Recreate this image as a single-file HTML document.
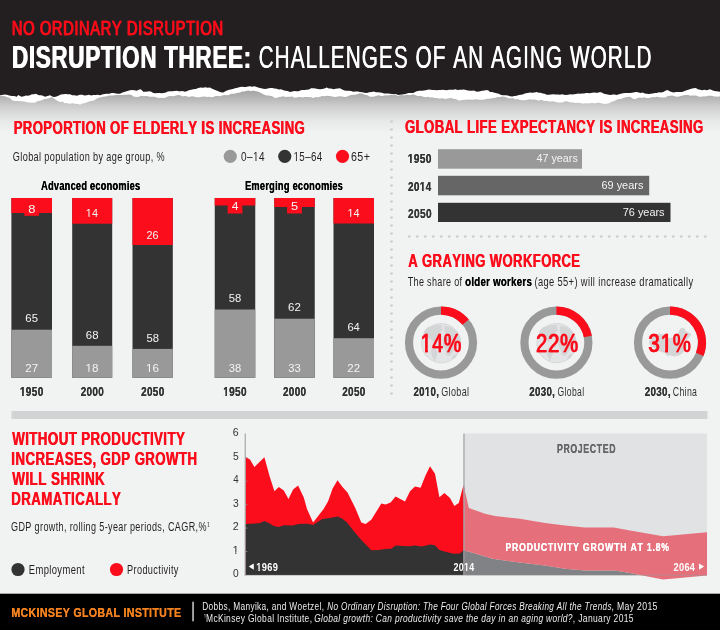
<!DOCTYPE html>
<html lang="en"><head><meta charset="utf-8"><title>Disruption Three: Challenges of an Aging World</title>
<style>html,body{margin:0;padding:0;background:#f1f2f2}body{width:720px;height:630px;overflow:hidden}svg{display:block}text{font-family:"Liberation Sans",Arial,Helvetica,sans-serif;white-space:pre;font-kerning:none;stroke-linejoin:round}</style></head>
<body>
<svg width="720" height="630" viewBox="0 0 720 630">
<rect width="720" height="630" fill="#f1f2f2"/>
<defs><linearGradient id="sh" x1="0" y1="0" x2="0" y2="1"><stop offset="0" stop-color="#a2a2a2"/><stop offset="0.17" stop-color="#b4b4b4"/><stop offset="0.37" stop-color="#cccccc"/><stop offset="0.57" stop-color="#dddede"/><stop offset="0.77" stop-color="#e9eaea"/><stop offset="1" stop-color="#f1f2f2"/></linearGradient></defs>
<rect x="0" y="90" width="720" height="43" fill="url(#sh)"/>
<polygon fill="#ffffff" points="0,80 0.0,95.8 2.5,96.0 5.0,96.3 7.5,97.2 10.0,98.0 11.7,99.9 13.3,100.8 15.4,100.9 17.5,101.1 19.6,101.3 21.7,101.3 24.2,101.4 26.7,102.2 28.9,102.4 31.1,102.8 33.3,102.8 35.5,102.5 37.8,101.0 40.0,100.8 42.2,99.9 44.5,98.9 46.7,98.7 49.2,98.2 51.7,97.0 55.0,99.2 58.3,101.3 60.4,102.0 62.5,101.6 64.6,103.2 66.7,103.0 68.9,103.7 71.1,103.4 73.3,103.3 75.5,103.9 77.8,103.8 80.0,104.7 82.2,103.4 84.5,103.3 86.7,102.5 88.9,101.4 91.1,101.0 93.3,100.8 95.5,99.4 97.8,98.0 100.0,97.5 102.1,97.0 104.2,96.6 106.2,96.6 108.3,95.8 110.4,95.6 112.5,95.6 114.6,95.2 116.7,95.0 120.0,95.0 122.2,95.1 124.5,94.7 126.7,94.7 129.2,94.6 131.7,95.0 133.3,96.4 135.0,96.7 137.2,97.0 139.5,96.5 141.7,95.8 143.8,96.3 145.8,96.0 147.9,96.2 150.0,96.7 152.2,96.7 154.5,96.7 156.7,97.5 158.9,98.0 161.1,97.7 163.3,98.0 165.8,97.6 168.3,96.3 170.4,95.9 172.5,96.3 174.6,96.0 176.7,95.3 178.7,94.9 180.7,95.4 182.7,96.4 184.7,96.1 186.7,96.3 188.8,97.1 190.8,96.5 192.9,96.3 195.0,97.0 197.3,97.2 199.7,97.3 202.0,96.7 204.4,96.5 206.7,97.0 208.9,96.7 211.1,97.3 213.3,97.0 215.6,96.1 217.8,96.1 220.0,96.3 222.2,95.5 224.5,95.1 226.7,95.3 228.9,95.1 231.1,93.8 233.3,93.7 235.5,93.4 237.8,92.8 240.0,92.5 242.2,91.6 244.5,91.6 246.7,90.8 248.7,90.5 250.7,91.2 252.7,90.6 254.7,91.1 256.7,91.3 258.9,91.9 261.1,93.0 263.3,94.2 265.5,95.3 267.8,95.6 270.0,95.8 272.2,96.3 274.5,97.7 276.7,98.0 278.9,97.1 281.1,96.7 283.3,96.3 285.5,96.9 287.8,96.7 290.0,96.7 292.2,96.5 294.5,97.8 296.7,97.5 298.7,97.1 300.7,97.0 302.7,97.5 304.7,96.9 306.7,97.0 308.9,97.1 311.1,97.2 313.3,98.0 315.5,97.1 317.8,97.2 320.0,96.7 322.2,96.1 324.5,96.2 326.7,95.8 328.9,95.9 331.1,96.3 333.3,96.7 335.5,97.1 337.8,96.4 340.0,96.3 342.2,96.5 344.5,97.0 346.7,96.7 348.9,95.7 351.1,95.0 353.3,94.7 355.5,94.7 357.8,94.1 360.0,93.3 362.5,93.7 365.0,94.7 367.5,95.3 370.0,96.7 372.2,96.7 374.5,96.6 376.7,95.8 378.8,95.3 380.9,96.1 382.9,95.9 385.0,95.3 387.1,95.4 389.1,95.2 391.2,94.8 393.3,95.3 395.5,94.7 397.8,95.9 400.0,95.3 402.1,94.9 404.1,95.4 406.2,94.8 408.3,95.0 410.8,95.0 413.3,94.2 415.0,95.1 416.7,95.8 418.9,95.9 421.1,96.0 423.3,96.7 425.5,97.2 427.8,96.7 430.0,97.5 432.2,97.3 434.5,97.9 436.7,98.0 438.7,98.6 440.7,98.4 442.7,98.2 444.7,99.1 446.7,98.7 448.9,98.3 451.1,98.1 453.3,98.7 455.5,99.1 457.8,100.0 460.0,100.8 462.2,99.9 464.5,99.7 466.7,99.7 468.9,99.5 471.1,99.8 473.3,99.7 475.5,99.3 477.8,99.5 480.0,99.7 482.2,99.8 484.5,99.6 486.7,98.7 488.9,98.7 491.1,98.5 493.3,98.0 495.5,97.8 497.8,96.9 500.0,97.0 502.2,96.6 504.5,96.8 506.7,97.5 508.9,98.3 511.1,98.3 513.3,98.3 515.5,99.4 517.8,98.9 520.0,100.0 522.5,100.3 525.0,100.3 527.5,99.7 530.0,99.2 532.2,99.7 534.5,99.5 536.7,100.0 538.7,100.8 540.7,99.8 542.7,100.5 544.7,100.9 546.7,100.8 548.9,101.4 551.1,101.4 553.3,101.3 555.5,101.9 557.8,102.5 560.0,102.5 562.2,102.6 564.5,101.5 566.7,101.3 568.9,101.9 571.1,102.6 573.3,102.5 575.5,103.1 577.8,102.7 580.0,103.0 582.0,103.4 584.0,103.6 586.0,103.3 588.0,103.4 590.0,103.3 592.0,103.1 594.0,103.3 596.0,103.3 598.0,102.6 600.0,103.0 602.2,103.4 604.5,104.1 606.7,103.7 609.2,103.2 611.7,101.7 614.2,101.0 616.7,99.7 618.8,99.0 620.9,98.9 622.9,98.1 625.0,97.5 627.5,97.0 630.0,96.7 632.5,98.4 635.0,99.2 637.5,97.9 640.0,97.5 642.1,97.9 644.1,97.2 646.2,98.0 648.3,98.0 650.4,97.7 652.5,97.0 654.6,97.3 656.7,96.7 658.9,97.0 661.1,97.4 663.3,97.5 665.5,97.4 667.8,96.1 670.0,95.8 672.2,95.5 674.5,96.2 676.7,96.7 679.2,96.5 681.7,95.8 683.9,95.2 686.1,94.9 688.3,95.0 690.4,95.7 692.5,95.6 694.6,95.5 696.7,95.8 699.2,96.7 701.7,96.7 703.8,96.3 705.9,96.4 707.9,95.7 710.0,95.8 712.0,95.8 714.0,96.4 716.0,96.6 718.0,96.7 720.0,96.3 720,80"/>
<polygon fill="#231f20" points="0,0 0.0,95.3 2.2,94.9 4.5,94.6 6.7,94.7 9.2,95.5 11.7,96.0 14.2,95.9 16.7,96.7 18.3,95.0 20.0,95.9 21.7,96.7 23.8,96.2 25.9,95.6 27.9,95.7 30.0,95.3 31.9,94.3 33.9,94.2 35.8,93.7 39.0,95.3 41.0,95.3 43.0,95.8 45.0,96.7 47.5,95.9 50.0,95.3 53.3,97.0 55.8,96.7 58.3,95.8 60.8,94.6 63.3,94.2 65.5,93.9 67.8,94.3 70.0,94.2 72.2,95.2 74.5,95.3 76.7,95.8 80.0,94.7 82.2,94.8 84.5,95.6 86.7,95.3 88.9,94.7 91.1,95.5 93.3,95.0 95.5,94.9 97.8,94.8 100.0,95.3 102.2,94.4 104.5,94.0 106.7,93.7 109.2,93.7 111.7,93.0 113.8,92.9 115.8,93.4 117.9,93.7 120.0,93.7 122.5,92.6 125.0,91.7 127.5,91.0 130.0,90.3 132.2,90.0 134.5,90.2 136.7,90.8 138.8,89.7 140.8,89.2 143.3,91.7 145.5,91.7 147.8,91.4 150.0,91.3 151.7,92.0 153.3,93.0 155.4,93.2 157.5,93.1 159.6,93.0 161.7,93.3 163.8,93.1 165.8,92.5 167.9,91.5 170.0,91.3 172.2,91.2 174.5,91.0 176.7,90.8 178.7,91.3 180.7,91.2 182.7,90.9 184.7,91.7 186.7,91.3 188.9,90.2 191.1,89.8 193.3,89.2 195.8,88.9 198.3,88.0 200.6,87.6 203.0,87.8 205.3,87.2 207.7,87.8 210.0,87.5 211.7,88.6 213.3,89.2 215.8,90.3 218.3,91.3 220.8,92.3 223.3,92.5 225.8,91.1 228.3,90.0 230.5,89.6 232.8,89.0 235.0,88.3 237.5,87.7 240.0,87.0 242.0,86.8 244.0,87.1 246.0,87.0 248.0,86.4 250.0,86.3 252.2,86.7 254.5,86.3 256.7,87.0 258.9,87.8 261.1,88.3 263.3,88.7 265.5,89.0 267.8,88.6 270.0,88.0 272.2,88.0 274.5,88.4 276.7,88.7 278.9,89.4 281.1,89.3 283.3,90.3 285.5,90.8 287.8,91.1 290.0,92.0 292.2,91.4 294.5,91.1 296.7,91.3 298.7,91.2 300.7,90.3 302.7,90.1 304.7,89.9 306.7,89.7 308.9,89.6 311.1,88.3 313.3,88.3 315.5,88.5 317.8,88.9 320.0,89.2 322.2,89.0 324.5,88.4 326.7,87.5 328.9,88.4 331.1,88.4 333.3,89.2 335.5,88.8 337.8,88.5 340.0,88.3 342.2,89.5 344.5,90.4 346.7,90.8 348.9,90.8 351.1,91.1 353.3,91.7 355.5,91.5 357.8,91.6 360.0,92.0 362.2,92.3 364.5,92.8 366.7,93.0 369.2,92.3 371.7,92.0 373.8,91.6 375.9,92.2 377.9,92.2 380.0,92.5 382.0,92.8 384.0,93.4 386.0,93.4 388.0,93.5 390.0,93.7 392.0,94.0 394.0,94.3 396.0,93.9 398.0,94.9 400.0,94.7 402.1,94.6 404.1,94.2 406.2,93.7 408.3,93.0 410.8,92.9 413.3,93.0 415.0,92.0 416.7,91.3 419.2,90.7 421.7,90.8 424.2,90.5 426.7,90.0 428.7,89.6 430.7,89.7 432.7,89.9 434.7,89.9 436.7,90.3 438.7,90.1 440.7,89.9 442.7,89.8 444.7,90.0 446.7,90.3 448.9,89.7 451.1,89.8 453.3,89.7 455.4,89.2 457.5,90.1 459.6,89.8 461.7,89.7 463.8,89.6 465.9,90.0 467.9,90.4 470.0,90.8 472.0,90.8 474.0,90.6 476.0,91.4 478.0,91.7 480.0,91.3 482.2,90.8 484.5,90.4 486.7,90.0 488.4,90.6 490.0,92.0 492.2,92.0 494.5,92.7 496.7,93.3 498.9,93.7 501.1,95.0 503.3,95.3 505.5,95.3 507.8,95.5 510.0,96.3 512.2,96.6 514.5,96.0 516.7,95.8 518.9,94.9 521.1,94.8 523.3,94.2 525.5,93.2 527.8,93.1 530.0,92.5 532.2,92.8 534.5,92.5 536.7,92.0 538.7,92.7 540.7,92.8 542.7,93.5 544.7,93.8 546.7,94.7 548.9,94.8 551.1,94.4 553.3,94.2 555.5,94.6 557.8,94.4 560.0,94.7 562.0,94.3 564.0,94.8 566.0,94.9 568.0,94.7 570.0,94.2 572.0,94.4 574.0,94.3 576.0,94.1 578.0,93.5 580.0,93.7 582.0,93.6 584.0,93.4 586.0,93.0 588.0,92.9 590.0,93.3 592.0,92.8 594.0,92.5 596.0,92.7 598.0,92.7 600.0,92.0 602.2,92.7 604.5,93.9 606.7,94.2 608.7,94.8 610.7,95.0 612.7,94.5 614.7,94.6 616.7,95.0 618.8,94.2 620.9,93.7 622.9,93.2 625.0,93.0 627.3,92.9 629.7,93.0 632.0,92.7 634.4,92.2 636.7,92.0 638.7,92.5 640.7,93.0 642.7,92.6 644.7,93.5 646.7,93.7 648.7,94.0 650.7,93.7 652.7,93.5 654.7,93.1 656.7,93.0 658.9,92.3 661.1,92.6 663.3,92.0 665.4,90.8 667.5,90.0 669.6,91.3 671.7,92.0 673.8,92.5 675.9,91.9 677.9,91.9 680.0,92.0 682.2,91.9 684.5,91.1 686.7,90.3 689.0,89.4 691.2,88.8 693.5,88.2 695.8,88.0 697.9,89.3 700.0,89.7 702.2,90.2 704.5,89.7 706.7,90.3 710.0,89.2 712.2,90.2 714.5,91.1 716.7,91.3 720.0,91.7 720,0"/>
<text transform="translate(11.62,35.25) scale(0.7258,1)" font-size="20.30" letter-spacing="0.81" fill="#fc0d1b" stroke="#fc0d1b" stroke-width="0.35" style="text-shadow:0.76px 0 0 #fc0d1b">NO ORDINARY DISRUPTION</text>
<text transform="translate(11.50,67.50) scale(0.7134,1)" font-size="31.50" font-weight="bold" letter-spacing="0.94" fill="#ffffff" style="text-shadow:1.07px 0 0 #ffffff">DISRUPTION THREE:</text>
<text transform="translate(258.44,67.50) scale(0.6596,1)" font-size="31.50" letter-spacing="1.58" fill="#ffffff" style="text-shadow:0.49px 0 0 #ffffff">CHALLENGES OF AN AGING WORLD</text>
<text transform="translate(13.42,133.75) scale(0.7002,1)" font-size="18.80" font-weight="bold" letter-spacing="0.56" fill="#fc0d1b" style="text-shadow:0.63px 0 0 #fc0d1b">PROPORTION OF ELDERLY IS INCREASING</text>
<text transform="translate(12.84,161.25) scale(0.7256,1)" font-size="12.60" letter-spacing="0.50" fill="#231f20">Global population by age group, %</text>
<circle cx="230.25" cy="156.3" r="6.6" fill="#999999"/>
<clipPath id="nf1"><path clip-rule="evenodd" d="M-20 -15.1 H70.0 V6.3 H-20 Z M15.38 -1.34 H18.14 V3 H15.38 Z M19.36 -1.34 H22.22 V3 H19.36 Z"/></clipPath>
<text transform="translate(241.11,161.25) scale(0.7932,1)" font-size="12.60" letter-spacing="0.50" fill="#231f20" clip-path="url(#nf1)">0–14</text>
<circle cx="284.75" cy="156.3" r="6.6" fill="#333333"/>
<clipPath id="nf2"><path clip-rule="evenodd" d="M-20 -15.1 H77.6 V6.3 H-20 Z M0.36 -1.34 H3.12 V3 H0.36 Z M4.33 -1.34 H7.19 V3 H4.33 Z"/></clipPath>
<text transform="translate(293.50,161.25) scale(0.7768,1)" font-size="12.60" letter-spacing="0.50" fill="#231f20" clip-path="url(#nf2)">15–64</text>
<circle cx="342.5" cy="156.3" r="6.6" fill="#fc0d1b"/>
<text transform="translate(350.95,161.25) scale(0.8523,1)" font-size="12.60" letter-spacing="0.50" fill="#231f20">65+</text>
<text transform="translate(41.02,190.00) scale(0.7714,1)" font-size="11.90" font-weight="bold" letter-spacing="0.36" fill="#000000" style="text-shadow:0.34px 0 0 #000000">Advanced economies</text>
<text transform="translate(244.88,190.00) scale(0.7747,1)" font-size="11.90" font-weight="bold" letter-spacing="0.36" fill="#000000" style="text-shadow:0.34px 0 0 #000000">Emerging economies</text>
<rect x="11.4" y="198.0" width="40.60" height="179.80" fill="#333333"/>
<rect x="11.4" y="198.0" width="40.60" height="15.00" fill="#fc0d1b"/>
<rect x="11.4" y="329.70" width="40.60" height="48.10" fill="#999999"/>
<rect x="24.30" y="198.0" width="14.8" height="17.80" fill="#fc0d1b"/>
<text transform="translate(28.14,212.50) scale(1.1304,1)" font-size="11.50" letter-spacing="0.00" fill="#f4f4f4">8</text>
<text transform="translate(25.32,322.40) scale(0.9894,1)" font-size="11.50" letter-spacing="0.00" fill="#f4f4f4">65</text>
<text transform="translate(25.32,372.00) scale(0.9970,1)" font-size="11.50" letter-spacing="0.00" fill="#f4f4f4">27</text>
<clipPath id="nf3"><path clip-rule="evenodd" d="M-20 -14.8 H68.8 V6.2 H-20 Z M0.17 -1.66 H2.82 V3 H0.17 Z M4.67 -1.66 H7.36 V3 H4.67 Z"/></clipPath>
<text transform="translate(19.86,395.50) scale(0.8220,1)" font-size="12.30" font-weight="bold" letter-spacing="0.37" fill="#333333" style="text-shadow:0.06px 0 0 #333333" clip-path="url(#nf3)">1950</text>
<rect x="72.2" y="198.0" width="40.00" height="179.80" fill="#333333"/>
<rect x="72.2" y="198.0" width="40.00" height="25.70" fill="#fc0d1b"/>
<rect x="72.2" y="345.80" width="40.00" height="32.00" fill="#999999"/>
<clipPath id="nf4"><path clip-rule="evenodd" d="M-20 -13.8 H52.8 V5.8 H-20 Z M0.28 -1.26 H2.84 V3 H0.28 Z M3.96 -1.26 H6.63 V3 H3.96 Z"/></clipPath>
<text transform="translate(85.87,217.20) scale(0.9500,1)" font-size="11.50" letter-spacing="0.00" fill="#f4f4f4" clip-path="url(#nf4)">14</text>
<text transform="translate(85.82,338.50) scale(0.9908,1)" font-size="11.50" letter-spacing="0.00" fill="#f4f4f4">68</text>
<clipPath id="nf5"><path clip-rule="evenodd" d="M-20 -13.8 H52.8 V5.8 H-20 Z M0.28 -1.26 H2.84 V3 H0.28 Z M3.96 -1.26 H6.63 V3 H3.96 Z"/></clipPath>
<text transform="translate(85.51,372.00) scale(1.0161,1)" font-size="11.50" letter-spacing="0.00" fill="#f4f4f4" clip-path="url(#nf5)">18</text>
<text transform="translate(80.65,395.50) scale(0.8116,1)" font-size="12.30" font-weight="bold" letter-spacing="0.37" fill="#333333" style="text-shadow:0.06px 0 0 #333333">2000</text>
<rect x="132.5" y="198.0" width="40.30" height="179.80" fill="#333333"/>
<rect x="132.5" y="198.0" width="40.30" height="47.00" fill="#fc0d1b"/>
<rect x="132.5" y="348.90" width="40.30" height="28.90" fill="#999999"/>
<text transform="translate(146.61,239.20) scale(0.9395,1)" font-size="11.50" letter-spacing="0.00" fill="#f4f4f4">26</text>
<text transform="translate(146.40,341.60) scale(0.9805,1)" font-size="11.50" letter-spacing="0.00" fill="#f4f4f4">58</text>
<clipPath id="nf6"><path clip-rule="evenodd" d="M-20 -13.8 H52.8 V5.8 H-20 Z M0.28 -1.26 H2.84 V3 H0.28 Z M3.96 -1.26 H6.63 V3 H3.96 Z"/></clipPath>
<text transform="translate(145.96,372.00) scale(1.0166,1)" font-size="11.50" letter-spacing="0.00" fill="#f4f4f4" clip-path="url(#nf6)">16</text>
<text transform="translate(141.10,395.50) scale(0.8116,1)" font-size="12.30" font-weight="bold" letter-spacing="0.37" fill="#333333" style="text-shadow:0.06px 0 0 #333333">2050</text>
<rect x="214.75" y="198.0" width="40.50" height="179.80" fill="#333333"/>
<rect x="214.75" y="198.0" width="40.50" height="7.50" fill="#fc0d1b"/>
<rect x="214.75" y="309.50" width="40.50" height="68.30" fill="#999999"/>
<rect x="227.60" y="198.0" width="14.8" height="15.50" fill="#fc0d1b"/>
<text transform="translate(231.72,209.50) scale(1.0526,1)" font-size="11.50" letter-spacing="0.00" fill="#f4f4f4">4</text>
<text transform="translate(228.75,302.20) scale(0.9805,1)" font-size="11.50" letter-spacing="0.00" fill="#f4f4f4">58</text>
<text transform="translate(228.77,372.00) scale(0.9786,1)" font-size="11.50" letter-spacing="0.00" fill="#f4f4f4">38</text>
<clipPath id="nf7"><path clip-rule="evenodd" d="M-20 -14.8 H68.8 V6.2 H-20 Z M0.17 -1.66 H2.82 V3 H0.17 Z M4.67 -1.66 H7.36 V3 H4.67 Z"/></clipPath>
<text transform="translate(223.16,395.50) scale(0.8220,1)" font-size="12.30" font-weight="bold" letter-spacing="0.37" fill="#333333" style="text-shadow:0.06px 0 0 #333333" clip-path="url(#nf7)">1950</text>
<rect x="274.25" y="198.0" width="40.50" height="179.80" fill="#333333"/>
<rect x="274.25" y="198.0" width="40.50" height="9.00" fill="#fc0d1b"/>
<rect x="274.25" y="318.70" width="40.50" height="59.10" fill="#999999"/>
<rect x="287.10" y="198.0" width="14.8" height="15.50" fill="#fc0d1b"/>
<text transform="translate(290.98,209.50) scale(1.1188,1)" font-size="11.50" letter-spacing="0.00" fill="#f4f4f4">5</text>
<text transform="translate(288.12,311.40) scale(0.9975,1)" font-size="11.50" letter-spacing="0.00" fill="#f4f4f4">62</text>
<text transform="translate(288.27,372.00) scale(0.9791,1)" font-size="11.50" letter-spacing="0.00" fill="#f4f4f4">33</text>
<text transform="translate(282.95,395.50) scale(0.8116,1)" font-size="12.30" font-weight="bold" letter-spacing="0.37" fill="#333333" style="text-shadow:0.06px 0 0 #333333">2000</text>
<rect x="333.5" y="198.0" width="40.50" height="179.80" fill="#333333"/>
<rect x="333.5" y="198.0" width="40.50" height="25.50" fill="#fc0d1b"/>
<rect x="333.5" y="338.20" width="40.50" height="39.60" fill="#999999"/>
<clipPath id="nf8"><path clip-rule="evenodd" d="M-20 -13.8 H52.8 V5.8 H-20 Z M0.28 -1.26 H2.84 V3 H0.28 Z M3.96 -1.26 H6.63 V3 H3.96 Z"/></clipPath>
<text transform="translate(347.42,217.20) scale(0.9500,1)" font-size="11.50" letter-spacing="0.00" fill="#f4f4f4" clip-path="url(#nf8)">14</text>
<text transform="translate(347.38,330.90) scale(0.9772,1)" font-size="11.50" letter-spacing="0.00" fill="#f4f4f4">64</text>
<text transform="translate(347.37,372.00) scale(0.9970,1)" font-size="11.50" letter-spacing="0.00" fill="#f4f4f4">22</text>
<text transform="translate(342.20,395.50) scale(0.8116,1)" font-size="12.30" font-weight="bold" letter-spacing="0.37" fill="#333333" style="text-shadow:0.06px 0 0 #333333">2050</text>
<g fill="#cbcdcf"><circle cx="391.5" cy="121.5" r="1.35"/><circle cx="391.5" cy="129.5" r="1.35"/><circle cx="391.5" cy="137.5" r="1.35"/><circle cx="391.5" cy="145.5" r="1.35"/><circle cx="391.5" cy="153.5" r="1.35"/><circle cx="391.5" cy="161.5" r="1.35"/><circle cx="391.5" cy="169.5" r="1.35"/><circle cx="391.5" cy="177.5" r="1.35"/><circle cx="391.5" cy="185.5" r="1.35"/><circle cx="391.5" cy="193.5" r="1.35"/><circle cx="391.5" cy="201.5" r="1.35"/><circle cx="391.5" cy="209.5" r="1.35"/><circle cx="391.5" cy="217.5" r="1.35"/><circle cx="391.5" cy="225.5" r="1.35"/><circle cx="391.5" cy="233.5" r="1.35"/><circle cx="391.5" cy="241.5" r="1.35"/><circle cx="391.5" cy="249.5" r="1.35"/><circle cx="391.5" cy="257.5" r="1.35"/><circle cx="391.5" cy="265.5" r="1.35"/><circle cx="391.5" cy="273.5" r="1.35"/><circle cx="391.5" cy="281.5" r="1.35"/><circle cx="391.5" cy="289.5" r="1.35"/><circle cx="391.5" cy="297.5" r="1.35"/><circle cx="391.5" cy="305.5" r="1.35"/><circle cx="391.5" cy="313.5" r="1.35"/><circle cx="391.5" cy="321.5" r="1.35"/><circle cx="391.5" cy="329.5" r="1.35"/><circle cx="391.5" cy="337.5" r="1.35"/><circle cx="391.5" cy="345.5" r="1.35"/><circle cx="391.5" cy="353.5" r="1.35"/><circle cx="391.5" cy="361.5" r="1.35"/><circle cx="391.5" cy="369.5" r="1.35"/><circle cx="391.5" cy="377.5" r="1.35"/><circle cx="391.5" cy="385.5" r="1.35"/><circle cx="391.5" cy="393.5" r="1.35"/><circle cx="409.25" cy="236.5" r="1.35"/><circle cx="417.25" cy="236.5" r="1.35"/><circle cx="425.25" cy="236.5" r="1.35"/><circle cx="433.25" cy="236.5" r="1.35"/><circle cx="441.25" cy="236.5" r="1.35"/><circle cx="449.25" cy="236.5" r="1.35"/><circle cx="457.25" cy="236.5" r="1.35"/><circle cx="465.25" cy="236.5" r="1.35"/><circle cx="473.25" cy="236.5" r="1.35"/><circle cx="481.25" cy="236.5" r="1.35"/><circle cx="489.25" cy="236.5" r="1.35"/><circle cx="497.25" cy="236.5" r="1.35"/><circle cx="505.25" cy="236.5" r="1.35"/><circle cx="513.25" cy="236.5" r="1.35"/><circle cx="521.25" cy="236.5" r="1.35"/><circle cx="529.25" cy="236.5" r="1.35"/><circle cx="537.25" cy="236.5" r="1.35"/><circle cx="545.25" cy="236.5" r="1.35"/><circle cx="553.25" cy="236.5" r="1.35"/><circle cx="561.25" cy="236.5" r="1.35"/><circle cx="569.25" cy="236.5" r="1.35"/><circle cx="577.25" cy="236.5" r="1.35"/><circle cx="585.25" cy="236.5" r="1.35"/><circle cx="593.25" cy="236.5" r="1.35"/><circle cx="601.25" cy="236.5" r="1.35"/><circle cx="609.25" cy="236.5" r="1.35"/><circle cx="617.25" cy="236.5" r="1.35"/><circle cx="625.25" cy="236.5" r="1.35"/><circle cx="633.25" cy="236.5" r="1.35"/><circle cx="641.25" cy="236.5" r="1.35"/><circle cx="649.25" cy="236.5" r="1.35"/><circle cx="657.25" cy="236.5" r="1.35"/><circle cx="665.25" cy="236.5" r="1.35"/><circle cx="673.25" cy="236.5" r="1.35"/><circle cx="681.25" cy="236.5" r="1.35"/><circle cx="689.25" cy="236.5" r="1.35"/><circle cx="697.25" cy="236.5" r="1.35"/><circle cx="705.25" cy="236.5" r="1.35"/></g>
<text transform="translate(404.71,133.00) scale(0.7025,1)" font-size="18.80" font-weight="bold" letter-spacing="0.56" fill="#fc0d1b" style="text-shadow:0.63px 0 0 #fc0d1b">GLOBAL LIFE EXPECTANCY IS INCREASING</text>
<rect x="438" y="149.2" width="144.00" height="19.50" fill="#999999"/>
<clipPath id="nf9"><path clip-rule="evenodd" d="M-20 -14.8 H68.8 V6.2 H-20 Z M0.17 -1.66 H2.82 V3 H0.17 Z M4.67 -1.66 H7.36 V3 H4.67 Z"/></clipPath>
<text transform="translate(407.65,162.70) scale(0.8404,1)" font-size="12.30" font-weight="bold" letter-spacing="0.37" fill="#333333" style="text-shadow:0.05px 0 0 #333333" clip-path="url(#nf9)">1950</text>
<text transform="translate(536.45,162.20) scale(0.9395,1)" font-size="11.50" letter-spacing="0.00" fill="#f4f4f4">47 years</text>
<rect x="438" y="175.8" width="211.20" height="19.50" fill="#666666"/>
<clipPath id="nf10"><path clip-rule="evenodd" d="M-20 -14.8 H68.8 V6.2 H-20 Z M14.59 -1.66 H17.24 V3 H14.59 Z M19.09 -1.66 H21.78 V3 H19.09 Z"/></clipPath>
<text transform="translate(407.95,190.80) scale(0.8167,1)" font-size="12.30" font-weight="bold" letter-spacing="0.37" fill="#333333" style="text-shadow:0.06px 0 0 #333333" clip-path="url(#nf10)">2014</text>
<text transform="translate(601.44,189.20) scale(0.9511,1)" font-size="11.50" letter-spacing="0.00" fill="#f4f4f4">69 years</text>
<rect x="438" y="202.8" width="232.50" height="19.20" fill="#333333"/>
<text transform="translate(407.95,217.80) scale(0.8297,1)" font-size="12.30" font-weight="bold" letter-spacing="0.37" fill="#333333" style="text-shadow:0.05px 0 0 #333333">2050</text>
<text transform="translate(622.74,215.80) scale(0.9489,1)" font-size="11.50" letter-spacing="0.00" fill="#f4f4f4">76 years</text>
<text transform="translate(407.92,267.00) scale(0.6959,1)" font-size="18.80" font-weight="bold" letter-spacing="0.56" fill="#fc0d1b" style="text-shadow:0.63px 0 0 #fc0d1b">A GRAYING WORKFORCE</text>
<text transform="translate(407.70,286.25) scale(0.7130,1)" font-size="12.60" letter-spacing="0.50" fill="#231f20">The share of</text>
<text transform="translate(465.12,286.25) scale(0.7649,1)" font-size="12.60" font-weight="bold" letter-spacing="0.38" fill="#000000" style="text-shadow:0.12px 0 0 #000000">older workers</text>
<text transform="translate(534.42,286.25) scale(0.7398,1)" font-size="12.60" letter-spacing="0.50" fill="#231f20">(age 55+) will increase dramatically</text>
<circle cx="441" cy="342.6" r="32.0" fill="none" stroke="#999999" stroke-width="8.2"/>
<path d="M441.00 310.60 A32.0 32.0 0 0 1 465.66 322.20" fill="none" stroke="#fc0d1b" stroke-width="8.2"/>
<g transform="translate(441.20,343.20)"><circle r="19.6" fill="#e3e4e5" stroke="#d3d5d6" stroke-width="0.9"/><g fill="#d3d5d6"><path d="M-18 -7 L-17.3 -11.7 L-14.1 -15.7 L-7.8 -17.9 L0.2 -18.3 L1 -13.3 L-2.2 -9.4 L-3.5 -6 L-5.4 -3.6 L-8 -1 L-9.4 -3 L-13.3 -5.4 Z"/><path d="M-10.2 6.5 L-5.4 5.7 L-3.6 9.7 L-5.2 14.4 L-6.4 18.4 L-8.2 14.8 L-9.8 10.5 Z"/><path d="M3.3 -17.5 L10.5 -15.9 L16 -11 L19.2 -4.6 L19.6 1 L16 1.4 L12.6 7.5 L8.6 12.9 L5.4 12 L4.1 6.5 L1.6 1.5 L2.1 -5.4 L4.6 -8 L3.2 -12 Z"/><path d="M11.5 12.5 L16.4 9.7 L14.4 14.6 L10.5 16.4 Z"/></g></g>
<clipPath id="nf11"><path clip-rule="evenodd" d="M-20 -31.7 H96.0 V13.2 H-20 Z M1.06 -2.55 H6.41 V3 H1.06 Z M10.07 -2.55 H15.42 V3 H10.07 Z"/></clipPath>
<text transform="translate(420.24,351.50) scale(0.7402,1)" font-size="26.40" letter-spacing="1.06" fill="#fc0d1b" stroke="#fc0d1b" stroke-width="0.35" style="text-shadow:0.76px 0 0 #fc0d1b" clip-path="url(#nf11)">14%</text>
<circle cx="556.4" cy="342.6" r="32.0" fill="none" stroke="#999999" stroke-width="8.2"/>
<path d="M556.40 310.60 A32.0 32.0 0 0 1 587.83 336.60" fill="none" stroke="#fc0d1b" stroke-width="8.2"/>
<g transform="translate(556.60,343.20)"><circle r="19.6" fill="#e3e4e5" stroke="#d3d5d6" stroke-width="0.9"/><g fill="#d3d5d6"><path d="M-18 -7 L-17.3 -11.7 L-14.1 -15.7 L-7.8 -17.9 L0.2 -18.3 L1 -13.3 L-2.2 -9.4 L-3.5 -6 L-5.4 -3.6 L-8 -1 L-9.4 -3 L-13.3 -5.4 Z"/><path d="M-10.2 6.5 L-5.4 5.7 L-3.6 9.7 L-5.2 14.4 L-6.4 18.4 L-8.2 14.8 L-9.8 10.5 Z"/><path d="M3.3 -17.5 L10.5 -15.9 L16 -11 L19.2 -4.6 L19.6 1 L16 1.4 L12.6 7.5 L8.6 12.9 L5.4 12 L4.1 6.5 L1.6 1.5 L2.1 -5.4 L4.6 -8 L3.2 -12 Z"/><path d="M11.5 12.5 L16.4 9.7 L14.4 14.6 L10.5 16.4 Z"/></g></g>
<text transform="translate(535.72,351.50) scale(0.7665,1)" font-size="26.40" letter-spacing="1.06" fill="#fc0d1b" stroke="#fc0d1b" stroke-width="0.35" style="text-shadow:0.74px 0 0 #fc0d1b">22%</text>
<circle cx="670" cy="342.6" r="32.0" fill="none" stroke="#999999" stroke-width="8.2"/>
<path d="M670.00 310.60 A32.0 32.0 0 0 1 699.75 354.38" fill="none" stroke="#fc0d1b" stroke-width="8.2"/>
<path fill="#d3d5d6" d="M649.4 341.8 L652.9 337 L658.5 333.9 L664.8 334.7 L668.8 338.6 L673.6 337.8 L678.3 333.1 L680.7 328.7 L683.9 328.3 L685.5 331.5 L690.6 333.9 L689.4 337 L686.3 339.4 L684.7 341.8 L686.3 345 L684.7 349.7 L682.3 352.9 L678.3 355.3 L674.4 356.1 L670.4 354.9 L667.2 355.7 L665.6 352.9 L660.9 351.3 L656.9 349.7 L652.9 346.6 L649.8 344.2 Z" stroke="#d3d5d6" stroke-width="0.8" stroke-linejoin="round"/>
<clipPath id="nf12"><path clip-rule="evenodd" d="M-20 -31.7 H96.0 V13.2 H-20 Z M16.80 -2.55 H22.15 V3 H16.80 Z M25.78 -2.55 H31.12 V3 H25.78 Z"/></clipPath>
<text transform="translate(648.11,351.50) scale(0.7722,1)" font-size="26.40" letter-spacing="1.06" fill="#fc0d1b" stroke="#fc0d1b" stroke-width="0.35" style="text-shadow:0.74px 0 0 #fc0d1b" clip-path="url(#nf12)">31%</text>
<clipPath id="nf13"><path clip-rule="evenodd" d="M-20 -14.8 H72.6 V6.2 H-20 Z M14.59 -1.66 H17.24 V3 H14.59 Z M19.15 -1.66 H21.84 V3 H19.15 Z"/></clipPath>
<text transform="translate(413.41,395.50) scale(0.7886,1)" font-size="12.30" font-weight="bold" letter-spacing="0.37" fill="#333333" style="text-shadow:0.11px 0 0 #333333" clip-path="url(#nf13)">2010,</text>
<text transform="translate(441.25,395.50) scale(0.7328,1)" font-size="12.30" letter-spacing="0.49" fill="#333333">Global</text>
<text transform="translate(529.16,395.50) scale(0.7967,1)" font-size="12.30" font-weight="bold" letter-spacing="0.37" fill="#333333" style="text-shadow:0.11px 0 0 #333333">2030,</text>
<text transform="translate(557.57,395.50) scale(0.6972,1)" font-size="12.30" letter-spacing="0.49" fill="#333333">Global</text>
<text transform="translate(644.66,395.50) scale(0.8031,1)" font-size="12.30" font-weight="bold" letter-spacing="0.37" fill="#333333" style="text-shadow:0.11px 0 0 #333333">2030,</text>
<text transform="translate(672.76,395.50) scale(0.7109,1)" font-size="12.30" letter-spacing="0.49" fill="#333333">China</text>
<rect x="11.5" y="411" width="696" height="8" fill="#d1d3d4"/>
<text transform="translate(11.99,445.00) scale(0.7324,1)" font-size="18.20" font-weight="bold" letter-spacing="0.55" fill="#fc0d1b" style="text-shadow:0.60px 0 0 #fc0d1b">WITHOUT PRODUCTIVITY</text>
<text transform="translate(11.11,465.00) scale(0.7296,1)" font-size="18.20" font-weight="bold" letter-spacing="0.55" fill="#fc0d1b" style="text-shadow:0.60px 0 0 #fc0d1b">INCREASES, GDP GROWTH</text>
<text transform="translate(11.99,485.00) scale(0.7425,1)" font-size="18.20" font-weight="bold" letter-spacing="0.55" fill="#fc0d1b" style="text-shadow:0.59px 0 0 #fc0d1b">WILL SHRINK</text>
<text transform="translate(11.11,505.00) scale(0.7278,1)" font-size="18.20" font-weight="bold" letter-spacing="0.55" fill="#fc0d1b" style="text-shadow:0.60px 0 0 #fc0d1b">DRAMATICALLY</text>
<text transform="translate(11.04,531.25) scale(0.7303,1)" font-size="12.40" letter-spacing="0.50" fill="#231f20">GDP growth, rolling 5-year periods, CAGR,%</text>
<clipPath id="nf14"><path clip-rule="evenodd" d="M-20 -8.4 H44.2 V3.5 H-20 Z M-0.07 -0.92 H1.71 V3 H-0.07 Z M2.43 -0.92 H4.35 V3 H2.43 Z"/></clipPath>
<text transform="translate(207.09,527.30) scale(0.7621,1)" font-size="7.00" letter-spacing="0.28" fill="#231f20" clip-path="url(#nf14)">1</text>
<circle cx="18" cy="569.5" r="6.6" fill="#333333"/>
<text transform="translate(28.73,573.75) scale(0.7490,1)" font-size="12.60" letter-spacing="0.50" fill="#231f20">Employment</text>
<circle cx="116.5" cy="569.5" r="6.6" fill="#fc0d1b"/>
<text transform="translate(127.00,573.75) scale(0.7291,1)" font-size="12.60" letter-spacing="0.50" fill="#231f20">Productivity</text>
<text transform="translate(233.00,577.00) scale(0.8687,1)" font-size="11.80" letter-spacing="0.47" fill="#333333">0</text>
<clipPath id="nf15"><path clip-rule="evenodd" d="M-20 -14.2 H47.0 V5.9 H-20 Z M0.30 -1.28 H2.92 V3 H0.30 Z M4.06 -1.28 H6.79 V3 H4.06 Z"/></clipPath>
<text transform="translate(232.53,553.54) scale(0.9631,1)" font-size="11.80" letter-spacing="0.47" fill="#333333" clip-path="url(#nf15)">1</text>
<text transform="translate(232.86,530.08) scale(0.9115,1)" font-size="11.80" letter-spacing="0.47" fill="#333333">2</text>
<text transform="translate(233.01,506.62) scale(0.8758,1)" font-size="11.80" letter-spacing="0.47" fill="#333333">3</text>
<text transform="translate(233.18,483.16) scale(0.8241,1)" font-size="11.80" letter-spacing="0.47" fill="#333333">4</text>
<text transform="translate(232.99,459.70) scale(0.8758,1)" font-size="11.80" letter-spacing="0.47" fill="#333333">5</text>
<text transform="translate(232.86,436.24) scale(0.8999,1)" font-size="11.80" letter-spacing="0.47" fill="#333333">6</text>
<rect x="464.8" y="433.5" width="242.2" height="141.5" fill="#e1e2e3"/>
<polygon fill="#fc0d1b" points="245.6,575.0 245.6,456.9 250.0,459.4 254.4,467.1 264.4,457.3 269.4,475.6 274.4,491.3 278.8,486.9 283.8,490.6 288.5,499.0 293.1,489.4 298.1,485.6 303.8,497.5 306.9,508.8 313.1,522.5 323.8,508.8 328.1,501.3 332.5,488.8 337.5,480.3 342.5,486.9 347.5,492.5 351.9,501.3 355.6,508.8 361.3,522.5 365.6,524.0 371.3,519.8 378.1,508.8 381.3,503.5 385.6,504.4 390.6,502.5 395.6,496.5 405.0,501.5 410.0,491.3 415.0,486.5 420.6,487.8 425.6,475.3 430.0,466.3 435.0,473.8 439.4,497.3 444.4,493.1 450.0,498.1 454.4,505.9 458.8,503.1 463.5,485.0 464.8,489.0 464.8,575.0"/>
<polygon fill="#333333" points="245.6,575.0 245.6,524.0 255.0,523.5 260.0,523.1 264.4,521.0 268.8,523.1 273.8,526.0 278.8,526.9 283.8,525.3 292.5,525.6 298.8,524.0 307.5,523.8 313.1,525.0 317.5,521.9 322.5,519.0 329.8,518.1 332.5,517.5 337.5,516.5 342.5,518.8 347.5,523.1 352.5,529.4 357.5,535.6 362.5,541.3 367.5,546.3 371.3,550.3 378.8,550.0 385.0,549.0 391.3,548.8 395.6,545.6 402.5,546.0 408.8,546.3 415.0,545.6 421.3,546.5 426.3,545.6 430.0,544.4 435.0,545.3 439.4,550.0 446.3,551.9 453.8,553.8 460.0,553.5 463.1,550.6 464.8,550.6 464.8,575.0"/>
<polygon fill="#808285" points="464.8,575.0 464.8,550.6 480.0,555.0 492.5,558.8 520.0,562.5 545.0,565.6 565.0,568.8 584.8,570.6 615.0,570.6 630.0,573.1 640,575.0"/>
<polygon fill="#e5707b" points="463.6,485.0 468.8,508.0 485.0,513.8 495.0,516.0 520.0,518.8 545.0,523.1 565.0,525.6 584.8,527.5 613.8,527.5 630.0,530.6 663.1,536.3 707.0,532.3 707.0,575.6 663.1,579.4 646.3,576.3 630.0,573.1 615.0,570.6 584.8,570.6 565.0,568.8 545.0,565.6 520.0,562.5 492.5,558.8 480.0,555.0 464.8,550.6"/>
<rect x="463.2" y="433.5" width="1.6" height="141.5" fill="#a7a9ac" opacity="0.9"/>
<rect x="244.7" y="433.5" width="1" height="142.1" fill="#999999"/>
<rect x="245.5" y="551.05" width="1.8" height="1" fill="#999999" opacity="0.8"/>
<rect x="245.5" y="527.60" width="1.8" height="1" fill="#999999" opacity="0.8"/>
<rect x="245.5" y="504.15" width="1.8" height="1" fill="#999999" opacity="0.8"/>
<rect x="245.5" y="480.70" width="1.8" height="1" fill="#999999" opacity="0.8"/>
<rect x="245.5" y="457.25" width="1.8" height="1" fill="#999999" opacity="0.8"/>
<rect x="244.7" y="574.8" width="462.3" height="0.9" fill="#999999" opacity="0.6"/>
<text transform="translate(556.91,452.75) scale(0.7083,1)" font-size="12.40" font-weight="bold" letter-spacing="0.87" fill="#666666" style="text-shadow:0.12px 0 0 #666666">PROJECTED</text>
<text transform="translate(505.42,550.70) scale(0.7390,1)" font-size="11.80" font-weight="bold" letter-spacing="1.06" fill="#ffffff" style="text-shadow:0.12px 0 0 #ffffff">PRODUCTIVITY GROWTH AT 1.8%</text>
<polygon fill="#fff" points="248.7,566.6 253.8,563.4 253.8,569.8"/>
<clipPath id="nf16"><path clip-rule="evenodd" d="M-20 -13.4 H66.3 V5.6 H-20 Z M0.11 -1.54 H2.56 V3 H0.11 Z M4.20 -1.54 H6.72 V3 H4.20 Z"/></clipPath>
<text transform="translate(256.31,570.70) scale(0.8306,1)" font-size="11.20" font-weight="bold" letter-spacing="0.34" fill="#ffffff" clip-path="url(#nf16)">1969</text>
<clipPath id="nf17"><path clip-rule="evenodd" d="M-20 -13.4 H66.3 V5.6 H-20 Z M13.24 -1.54 H15.69 V3 H13.24 Z M17.33 -1.54 H19.85 V3 H17.33 Z"/></clipPath>
<text transform="translate(453.49,570.70) scale(0.7969,1)" font-size="11.20" font-weight="bold" letter-spacing="0.34" fill="#ffffff" clip-path="url(#nf17)">2014</text>
<text transform="translate(673.58,570.70) scale(0.8243,1)" font-size="11.20" font-weight="bold" letter-spacing="0.34" fill="#ffffff">2064</text>
<polygon fill="#fff" points="704.1,566.6 699,563.4 699,569.8"/>
<rect x="0" y="593.7" width="720" height="36.3" fill="#000000"/>
<text transform="translate(11.29,616.75) scale(0.7959,1)" font-size="13.40" font-weight="bold" letter-spacing="0.40" fill="#f5821f" style="text-shadow:0.12px 0 0 #f5821f">MCKINSEY GLOBAL INSTITUTE</text>
<rect x="192.3" y="601.7" width="1.5" height="19.6" fill="#d0d0d0"/>
<text transform="translate(202.22,609.60) scale(0.7564,1)" font-size="11.00" letter-spacing="0.44" fill="#ececec">Dobbs, Manyika, and Woetzel,</text>
<text transform="translate(327.25,609.60) scale(0.7453,1)" font-size="11.00" font-style="italic" letter-spacing="0.44" fill="#ececec">No Ordinary Disruption: The Four Global Forces Breaking All the Trends</text>
<text transform="translate(611.42,609.60) scale(0.7887,1)" font-size="11.00" letter-spacing="0.44" fill="#ececec">, May 2015</text>
<clipPath id="nf18"><path clip-rule="evenodd" d="M-20 -7.4 H43.7 V3.1 H-20 Z M-0.13 -0.86 H1.51 V3 H-0.13 Z M2.16 -0.86 H3.95 V3 H2.16 Z"/></clipPath>
<text transform="translate(203.66,617.60) scale(0.7108,1)" font-size="6.20" letter-spacing="0.25" fill="#ececec" clip-path="url(#nf18)">1</text>
<text transform="translate(206.01,621.70) scale(0.7676,1)" font-size="11.00" letter-spacing="0.44" fill="#ececec">McKinsey Global Institute,</text>
<text transform="translate(314.18,621.70) scale(0.7657,1)" font-size="11.00" font-style="italic" letter-spacing="0.44" fill="#ececec">Global growth: Can productivity save the day in an aging world?</text>
<text transform="translate(572.83,621.70) scale(0.7749,1)" font-size="11.00" letter-spacing="0.44" fill="#ececec">, January 2015</text>
</svg>
</body></html>
